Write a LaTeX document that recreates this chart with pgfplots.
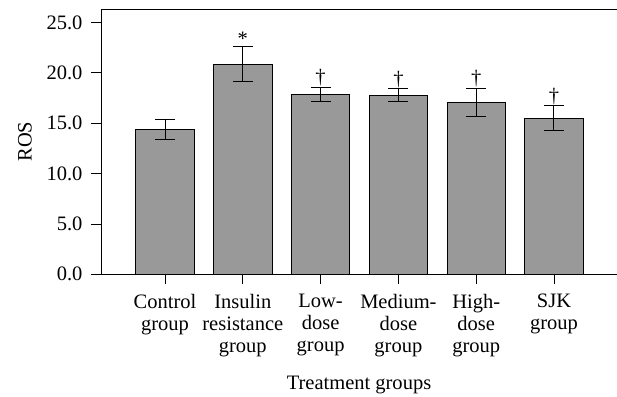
\documentclass[border=0pt]{standalone}
\usepackage{fontspec}
\setmainfont{Liberation Serif}
\usepackage{pgfplots}
\pgfplotsset{compat=1.18}
\usetikzlibrary{calc}
\pgfplotstableread{
x y err
0 14.40 0.97
1 20.88 1.70
2 17.87 0.73
3 17.80 0.63
4 17.11 1.39
5 15.49 1.25
}\ros
\newcommand{\figfont}{\fontsize{20.5}{22.3}\selectfont}
\begin{document}
\begin{tikzpicture}
\begin{axis}[
  name=ax,
  scale only axis,
  width=516pt, height=265.3pt,
  xmin=-0.823, xmax=5.81,
  ymin=0, ymax=26.35,
  separate axis lines,
  axis x line*=box,
  axis y line*=left,
  x axis line style={-},
  y axis line style={-},
  axis line style={line width=0.9pt, black},
  tick align=outside,
  major tick length=10pt,
  tick style={line width=0.9pt, black},
  xtick={0,1,2,3,4,5},
  xtick pos=bottom,
  ytick pos=left,
  xticklabels={Control\\group, Insulin\\resistance\\group, Low-\\dose\\group, Medium-\\dose\\group, High-\\dose\\group, SJK\\group},
  xticklabel style={align=center, font=\figfont, yshift=-6pt},
  yticklabel style={font=\figfont, xshift=-5pt},
  ytick={0,5,10,15,20,25},
  yticklabel={\pgfmathprintnumber[fixed,fixed zerofill,precision=1]{\tick}},
  /pgf/number format/assume math mode=true,
  xlabel={Treatment groups},
  ylabel={ROS},
  label style={font=\figfont},
  xlabel style={at={(axis description cs:0.5,0)}, anchor=base, yshift=-115.5pt},
  ylabel style={at={(axis description cs:0,0.5)}, anchor=center, rotate=0, yshift=76pt},
  clip=false,
]
\addplot[ybar, bar width=0.75, fill={rgb,255:red,153;green,153;blue,153}, draw=black, line width=0.8pt,
  error bars/.cd, y dir=both, y explicit,
  error bar style={line width=1pt, black},
  error mark options={rotate=90, mark size=10pt, line width=1pt, black}]
  table[x=x, y=y, y error=err] {\ros};
\addplot[draw=none, mark=none, nodes near coords, point meta=explicit symbolic,
  nodes near coords style={anchor=south, inner sep=1pt, font=\figfont}]
  coordinates {(1,22.58)[*] (2,18.60)[†] (3,18.43)[†] (4,18.50)[†] (5,16.74)[†]};
\end{axis}
\pgfresetboundingbox
\path ($(ax.south west)+(-101pt,-122.7pt)$) rectangle ($(ax.north east)+(0,9pt)$);
\end{tikzpicture}
\end{document}
